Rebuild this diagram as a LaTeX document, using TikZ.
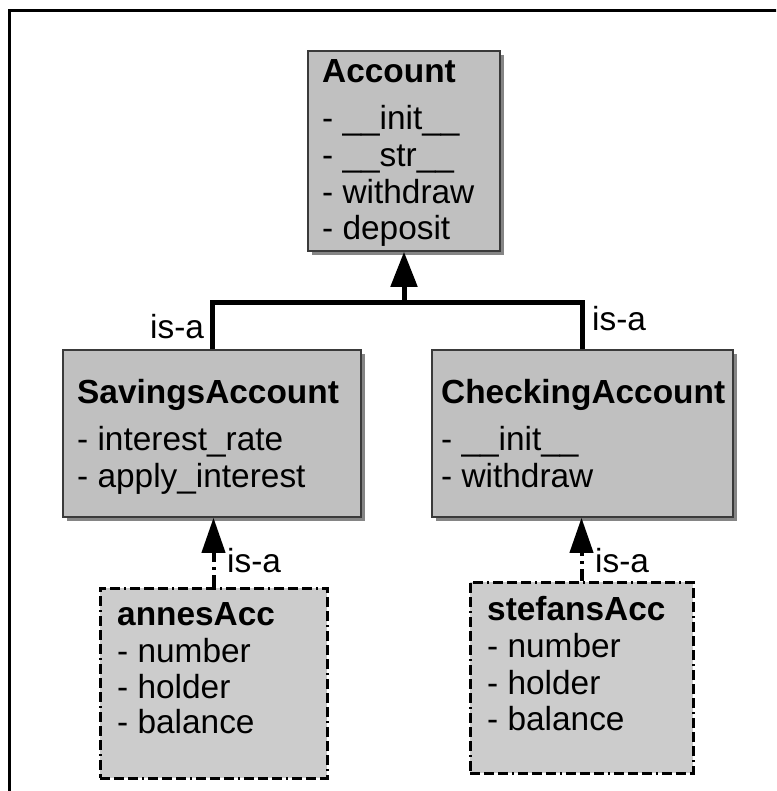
\documentclass[tikz,border=0pt]{standalone}
\usepackage{fontspec}
\setmainfont{Liberation Sans}
\usetikzlibrary{arrows.meta,shadows}
\definecolor{classfill}{HTML}{C0C0C0}
\definecolor{objfill}{HTML}{CCCCCC}
\definecolor{edgegray}{HTML}{3A3A3A}
\definecolor{shadowgray}{HTML}{858585}

\begin{document}
\begin{tikzpicture}[x=1pt,y=-1pt,
  classbox/.style={draw=edgegray, line width=1.5pt, fill=classfill,
    drop shadow={shadow xshift=4pt, shadow yshift=-4pt, opacity=1, fill=shadowgray},
    inner sep=0pt},
  objbox/.style={draw=black, line width=3pt, fill=objfill, inner sep=0pt,
    dash pattern=on 10pt off 4pt on 10pt off 4pt on 10pt off 4pt on 2pt off 4pt},
  txt/.style={font=\fontsize{33.4}{37}\selectfont, anchor=base west, inner sep=0pt},
  inherit/.style={line width=5pt, miter limit=10},
  isa/.style={line width=4pt, dash pattern=on 12pt off 5pt on 3pt off 5pt}
]
% page area and outer frame
\useasboundingbox (0,0) rectangle (776,791);
\fill[white] (0,0) rectangle (776,791);
\begin{scope}
  \clip (0,0) rectangle (776,791);
  \draw[line width=3.5pt] (9.5,820) -- (9.5,10.5) -- (800,10.5);
\end{scope}

% class boxes
\node[classbox, minimum width=192pt, minimum height=200pt] (acc) at (404,151) {};
\node[classbox, minimum width=298pt, minimum height=167pt] (sav) at (212,433.5) {};
\node[classbox, minimum width=301pt, minimum height=167pt] (chk) at (582.5,433.5) {};

% object boxes
\node[objbox, minimum width=227pt, minimum height=190pt] (ann) at (213.5,683) {};
\node[objbox, minimum width=223pt, minimum height=191pt] (ste) at (581.5,677.5) {};

% Account text
\node[txt] (acc-t) at (322,83) {\textbf{Account}};
\node[txt] (acc-1) at (322,130) {- \_\_init\_\_};
\node[txt] (acc-2) at (322,167) {- \_\_str\_\_};
\node[txt] (acc-3) at (322,204) {- withdraw};
\node[txt] (acc-4) at (322,240) {- deposit};

% SavingsAccount text
\node[txt] (sav-t) at (77,403) {\textbf{SavingsAccount}};
\node[txt] (sav-1) at (77,450) {- interest\_rate};
\node[txt] (sav-2) at (77,487) {- apply\_interest};

% CheckingAccount text
\node[txt] (chk-t) at (441,403) {\textbf{CheckingAccount}};
\node[txt] (chk-1) at (441,450) {- \_\_init\_\_};
\node[txt] (chk-2) at (441,487) {- withdraw};

% annesAcc text
\node[txt] (ann-t) at (117,625) {\textbf{annesAcc}};
\node[txt] (ann-1) at (117,662) {- number};
\node[txt] (ann-2) at (117,698) {- holder};
\node[txt] (ann-3) at (117,733) {- balance};

% stefansAcc text
\node[txt] (ste-t) at (487,620) {\textbf{stefansAcc}};
\node[txt] (ste-1) at (487,657) {- number};
\node[txt] (ste-2) at (487,694) {- holder};
\node[txt] (ste-3) at (487,730) {- balance};

% inheritance between classes
\coordinate (j) at (404,302);
\draw[inherit] (sav.north) |- (j) -| (chk.north);
\draw[inherit, -{Triangle[length=35pt,width=26pt]}] (j) -- (acc.south);

% instance relations
\draw[isa, -{Triangle[length=35pt,width=23pt]}] (ann.north) -- (ann.north |- sav.south);
\draw[isa, -{Triangle[length=35pt,width=23pt]}] (ste.north) -- (ste.north |- chk.south);

% labels
\node[txt] (l1) at (150,338) {is-a};
\node[txt] (l2) at (592,330) {is-a};
\node[txt] (l3) at (227,572) {is-a};
\node[txt] (l4) at (595,572) {is-a};
\end{tikzpicture}
\end{document}
